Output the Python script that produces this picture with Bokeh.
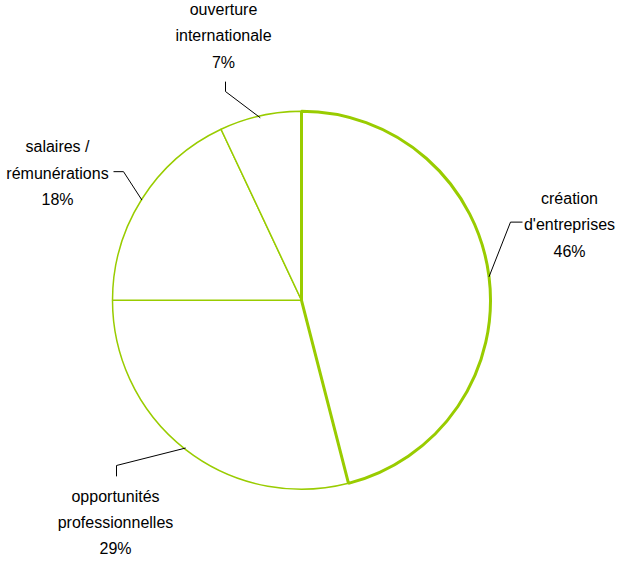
import math
from bokeh.plotting import figure
from bokeh.models import Range1d
from bokeh.core.properties import value
from bokeh.embed import file_html
from bokeh.resources import INLINE

# ---- data ----
categories = ["création\nd'entreprises", "opportunités\nprofessionnelles",
              "salaires /\nrémunérations", "ouverture\ninternationale"]
values = [46, 29, 18, 7]

# ---- layout (reference pixel coordinates, y downward) ----
W, H = 618, 557
CX, CY, R = 311, 312, 189
GREEN = "#99cc00"
FONT = "Liberation Sans"
FS = "16px"
LINE_H = 26.7
# label block centre x, first-line centre y, elbow point, leader end point
label_layout = [
    dict(tx=579, ty=209, elbow=(520, 233), end=(532, 233)),
    dict(tx=125, ty=510, elbow=(126, 479), end=(126, 490)),
    dict(tx=67, ty=157, elbow=(133, 182), end=(123, 182)),
    dict(tx=233, ty=18, elbow=(235, 101), end=(235, 91)),
]

def py(y):
    # reference y -> data y (y up)
    return 573 - y

p = figure(width=W, height=H, output_backend="svg", toolbar_location=None,
           x_range=Range1d(10, 10 + W), y_range=Range1d(py(572), py(9)),
           min_border=0)
p.axis.visible = False
p.grid.visible = False
p.outline_line_color = None
p.background_fill_color = "white"
p.border_fill_color = "white"

total = sum(values)
cum = 0
wedges = []
for i, v in enumerate(values):
    f0 = cum / total
    f1 = (cum + v) / total
    cum += v
    wedges.append((i, f0, f1))

# draw thin ones first, highlighted first slice last
order = [w for w in wedges if w[0] != 0] + [w for w in wedges if w[0] == 0]
for i, f0, f1 in order:
    start = math.pi / 2 - f1 * 2 * math.pi
    end = math.pi / 2 - f0 * 2 * math.pi
    p.wedge(x=[CX], y=[py(CY)], radius=R, start_angle=[start], end_angle=[end],
            direction="anticlock", fill_color="white",
            line_color=GREEN, line_width=3 if i == 0 else 1.5)

# leader lines and labels
for (i, f0, f1), lay, cat, v in zip(wedges, label_layout, categories, values):
    mid = (f0 + f1) / 2 * 2 * math.pi
    ax = CX + R * math.sin(mid)
    ay = CY - R * math.cos(mid)
    ex, ey = lay["elbow"]
    nx, ny = lay["end"]
    p.line(x=[ax, ex, nx], y=[py(ay), py(ey), py(ny)], line_color="black",
           line_width=1)
    lines = cat.split("\n") + [f"{v}%"]
    for k, t in enumerate(lines):
        p.text(x=[lay["tx"]], y=[py(lay["ty"] + k * LINE_H)], text=[t],
               text_font=value(FONT), text_font_size=FS, text_color="black",
               text_align="center", text_baseline="middle")

open("out.html", "w").write(file_html(p, INLINE))
